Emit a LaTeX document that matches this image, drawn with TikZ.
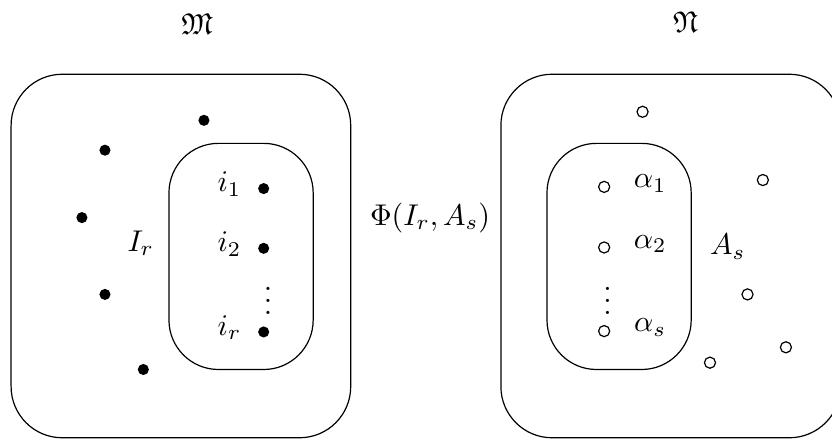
\documentclass[tikz,border=0pt]{standalone}
\usepackage{amssymb}
\begin{document}
\begin{tikzpicture}[
  mdot/.style={circle,fill=black,inner sep=0pt,minimum size=0.13cm},
  ndot/.style={circle,draw,inner sep=0pt,minimum size=0.13cm}]
\useasboundingbox (0,0) rectangle (9.75,5.16);
% the two structures
\draw[rounded corners=0.6cm] (0.13,0.03) rectangle (4.11,4.29);
\draw[rounded corners=0.6cm] (5.87,0.03) rectangle (9.85,4.29);
% the two subsets
\draw[rounded corners=0.58cm] (1.98,0.83) rectangle (3.67,3.48);
\draw[rounded corners=0.58cm] (6.41,0.83) rectangle (8.10,3.48);
\node (M) at (2.31,4.88) {$\mathfrak{M}$};
\node (N) at (8.03,4.90) {$\mathfrak{N}$};
\node (phi) at (5.04,2.61) {$\Phi(I_r, A_s)$};
\node (Ir) at (1.65,2.31) {$I_r$};
\node (As) at (8.53,2.27) {$A_s$};
% elements of M
\foreach \x/\y [count=\k] in {2.39/3.75,1.23/3.40,0.96/2.61,1.23/1.71,1.68/0.83}
  \node[mdot] (m\k) at (\x,\y) {};
\foreach \y/\s [count=\k] in {2.95/1,2.25/2,1.27/r} {
  \node[mdot] (i\k) at (3.09,\y) {};
  \node (il\k) at (2.69,\y+0.05) {$i_\s$};
}
\node[inner sep=0pt] (idots) at (3.14,1.74) {$\vdots$};
% elements of N
\foreach \x/\y [count=\k] in {7.53/3.85,8.94/3.05,8.76/1.71,9.21/1.09,8.32/0.91}
  \node[ndot] (n\k) at (\x,\y) {};
\foreach \y/\s [count=\k] in {2.97/1,2.26/2,1.28/s} {
  \node[ndot] (a\k) at (7.08,\y) {};
  \node (al\k) at (7.62,\y+0.04) {$\alpha_\s$};
}
\node[inner sep=0pt] (adots) at (7.12,1.74) {$\vdots$};
\end{tikzpicture}
\end{document}
